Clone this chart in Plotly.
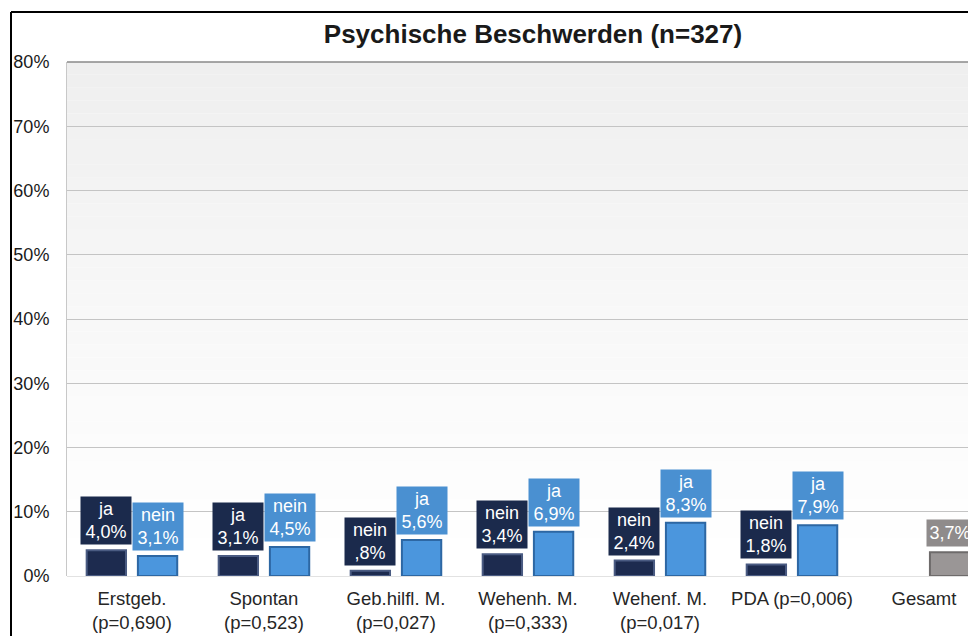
import plotly.graph_objects as go

# ---- data ----
categories = ["Erstgeb.<br>(p=0,690)", "Spontan<br>(p=0,523)", "Geb.hilfl. M.<br>(p=0,027)",
              "Wehenh. M.<br>(p=0,333)", "Wehenf. M.<br>(p=0,017)", "PDA (p=0,006)", "Gesamt"]
left_labels = ["ja", "ja", "nein", "nein", "nein", "nein", None]
left_values = [4.0, 3.1, 0.8, 3.4, 2.4, 1.8, None]
right_labels = ["nein", "nein", "ja", "ja", "ja", "ja", ""]
right_values = [3.1, 4.5, 5.6, 6.9, 8.3, 7.9, 3.7]
y_ticks = [0, 10, 20, 30, 40, 50, 60, 70, 80]
y_ticktext = ["0%", "10%", "20%", "30%", "40%", "50%", "60%", "70%", "80%"]
title_text = "Psychische Beschwerden (n=327)"

# ---- style ----
DARK = "#1d2b4f"
DARK_EDGE = "#4a5b82"
LIGHT = "#4b96dd"
LIGHT_EDGE = "#2d67a3"
GRAY = "#9a9696"
GRAY_EDGE = "#6e6b6b"
BOX_DARK = "#1b2a4c"
BOX_LIGHT = "#4a90d1"
BOX_GRAY = "#8f8b8b"
FONT = "Liberation Sans, Arial, sans-serif"

W = 0.298
L_OFF = -0.343
R_OFF = 0.045

# page has an 8px body margin; figure is sized to fit the 976x636 window
FIG_W, FIG_H = 968, 628
PAGE = 8

def fmt(v):
    s = f"{v:.1f}".replace(".", ",")
    if s.startswith("0,"):
        s = s[1:]
    return s + "%"

xs = list(range(len(categories)))
right_colors = [LIGHT] * (len(categories) - 1) + [GRAY]
right_edges = [LIGHT_EDGE] * (len(categories) - 1) + [GRAY_EDGE]

fig = go.Figure()
fig.add_trace(go.Bar(x=xs, y=left_values, width=W, offset=L_OFF,
                     marker=dict(color=DARK, line=dict(color=DARK_EDGE, width=2)),
                     hoverinfo="skip", showlegend=False))
fig.add_trace(go.Bar(x=xs, y=right_values, width=W, offset=R_OFF,
                     marker=dict(color=right_colors, line=dict(color=right_edges, width=2)),
                     hoverinfo="skip", showlegend=False))

annotations = []
for i, (lab, v) in enumerate(zip(left_labels, left_values)):
    if v is None:
        continue
    annotations.append(dict(x=i + L_OFF + W / 2, y=v, xref="x", yref="y",
                            text=f"{lab}<br>{fmt(v)}", showarrow=False,
                            yanchor="bottom", yshift=5, bgcolor=BOX_DARK,
                            width=48, height=45, borderpad=1,
                            font=dict(family=FONT, size=18, color="white")))
for i, (lab, v) in enumerate(zip(right_labels, right_values)):
    if v is None:
        continue
    last = (i == len(categories) - 1)
    txt = fmt(v) if not lab else f"{lab}<br>{fmt(v)}"
    annotations.append(dict(x=i + R_OFF + W / 2, y=v, xref="x", yref="y",
                            text=txt, showarrow=False,
                            yanchor="bottom", yshift=5,
                            bgcolor=BOX_GRAY if last else BOX_LIGHT,
                            width=44 if last else 48, height=24 if last else 45, borderpad=1,
                            font=dict(family=FONT, size=18, color="white")))

# background gradient bands
shapes = []
N = 40
for k in range(N):
    t = k / N
    c = int(round(255 - 17 * (t ** 1.2)))
    shapes.append(dict(type="rect", xref="x domain", yref="y domain",
                       x0=0, x1=1, y0=t, y1=(k + 1) / N,
                       fillcolor=f"rgb({c},{c},{c})", line=dict(width=0), layer="below"))
# top gridline darker
shapes.append(dict(type="line", xref="x domain", yref="y domain", x0=0, x1=1, y0=1, y1=1,
                   line=dict(color="#8a8a8a", width=1.5)))
# outer chart frame (left edge at page x=11, top edge at page y=12)
fx = (11 - 67) / 909
fy = (576 - 12) / 514
shapes.append(dict(type="line", xref="paper", yref="paper", x0=fx, x1=fx,
                   y0=fy, y1=-0.2, line=dict(color="black", width=2)))
shapes.append(dict(type="line", xref="paper", yref="paper", x0=fx, x1=1.05,
                   y0=fy, y1=fy, line=dict(color="black", width=2)))

fig.update_layout(
    width=FIG_W, height=FIG_H,
    margin=dict(l=67 - PAGE, r=0, t=62 - PAGE, b=60, autoexpand=False),
    paper_bgcolor="white", plot_bgcolor="white",
    barmode="overlay",
    title=dict(text=f"<b>{title_text}</b>", xref="container", yref="container",
               x=(533 - PAGE) / FIG_W, y=1 - (34 - PAGE) / FIG_H,
               xanchor="center", yanchor="middle",
               font=dict(family=FONT, size=26, color="#1a1a1a")),
    font=dict(family=FONT, size=18, color="#1a1a1a"),
    annotations=annotations, shapes=shapes,
    xaxis=dict(tickmode="array", tickvals=xs, ticktext=categories,
               range=[-0.492, 6.394], showgrid=False, zeroline=False,
               showline=False, ticks="", ticklabelstandoff=9,
               tickfont=dict(size=18.5, color="#262626")),
    yaxis=dict(range=[0, 80], tickmode="array", tickvals=y_ticks, ticktext=y_ticktext,
               showgrid=True, gridcolor="#c4c4c4", gridwidth=1,
               zeroline=True, zerolinecolor="#e2e2e2", zerolinewidth=1,
               showline=True, linecolor="#c8c8c8", linewidth=1,
               ticks="", ticklabelstandoff=13, tickfont=dict(size=18, color="#1a1a1a")),
)

fig.write_html("out.html")
